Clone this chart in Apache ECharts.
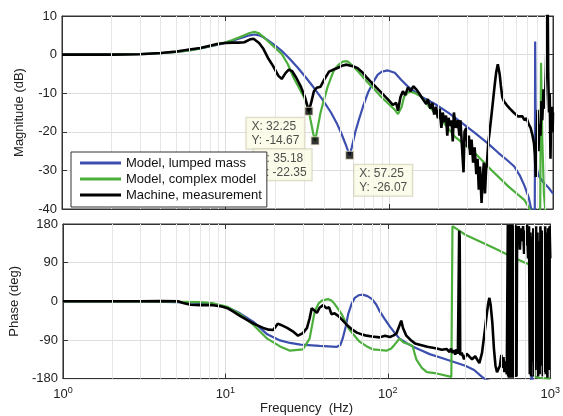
<!DOCTYPE html>
<html>
<head>
<meta charset="utf-8">
<script src="https://cdn.jsdelivr.net/npm/echarts@6/dist/echarts.min.js"></script>
<style>
html,body{margin:0;padding:0;background:#fff}
#main{width:563px;height:416px}
</style>
</head>
<body>
<div id="main"></div>
<script>
// frequency response data: [Hz, value]
var lumpedMag = [[1,0],[2,0.05],[3,0.15],[4,0.35],[5,0.7],[6,1.1],[7,1.6],[8,2.1],[9,2.6],[10,3.1],[11,3.6],[12,4.1],[13,4.6],[14,5],[15,5.2],[16,5],[17,4.5],[18,3.8],[20,2.4],[22,1],[24.5,-1],[27.6,-3.4],[31,-6],[34.6,-8.6],[39,-11.6],[44,-15],[48,-18],[51,-20.5],[54,-23.2],[56,-25],[57.25,-26.07],[59,-24],[62,-20],[65,-17],[69,-13.5],[74,-9.9],[80,-7],[85,-5.2],[90,-4.4],[98,-4.1],[108,-4.7],[118,-6.5],[130,-8.3],[157,-10.9],[190,-12.8],[230,-15.1],[280,-17.8],[333,-20.3],[400,-23],[465,-25.5],[530,-27.5],[580,-29],[630,-31.5],[670,-34],[710,-37],[745,-41],[774,-40],[778,3.4],[784,-20],[800,-30],[820,-31.5],[870,-33],[940,-34.5],[1000,-36]];
var complexMag = [[1,0],[2,0.05],[3,0.15],[4,0.35],[5,0.7],[6,1.1],[7,1.6],[8,2.2],[9,2.7],[10,3.2],[11,3.8],[12,4.4],[13,5],[14,5.6],[15,5.9],[16,5.5],[17,4.6],[18,3.6],[20,1.8],[22,0.2],[24,-2.5],[26,-6],[28,-8.5],[30,-10.9],[32,-14],[33,-16.9],[34.3,-20.5],[35.18,-22.35],[36.3,-19.5],[38,-15],[40,-11.5],[42,-8.3],[44,-6],[46,-3.9],[49,-2.6],[52,-1.8],[55,-1.7],[57,-2.1],[60,-3],[64.5,-4.4],[69,-5.8],[74,-7.3],[81,-9],[89,-10.9],[98,-12.6],[108,-14.3],[113,-15.4],[116,-15.6],[119,-13.5],[123,-10.9],[130,-9.8],[136,-9.6],[145,-10.1],[157,-10.9],[175,-13.5],[200,-16],[250,-21.2],[333,-25.5],[420,-29.9],[535,-34.2],[670,-37.7],[720,-40],[740,-41],[835,-41],[845,-2.1],[860,-22],[880,-36],[900,-41],[1000,-41]];
var measuredMag = [[1,0],[2,0],[3,0.1],[4,0.4],[5,0.8],[6,1.3],[7,1.7],[8,2.3],[9,2.8],[10,3],[11,3.1],[12,3.1],[13,3.2],[14,3.9],[14.8,4.1],[16,3],[17,1.5],[18.1,-0.8],[19.5,-3],[21,-5.5],[22,-6.3],[23.2,-4.8],[24.3,-3.9],[25.5,-4.3],[27,-6],[28.8,-8.3],[30.5,-11],[32.25,-14.67],[33.5,-12],[34.6,-9.5],[36,-8.6],[38,-8.3],[40,-6.5],[42.8,-4.4],[45,-4],[48.6,-3.4],[52,-2.8],[55,-2.6],[58,-2.9],[60,-3],[64,-3.5],[68,-4.5],[73,-6],[78,-7.3],[84,-8.7],[90,-10],[95,-11],[100,-12],[105,-13],[110,-12.5],[113,-14.5],[117,-11],[121,-9.5],[125,-10.5],[130,-8.5],[135,-9.5],[140,-8.2],[146,-9],[152,-10],[160,-11.5],[168,-12.8],[172,-11.5],[178,-14],[183,-12.5],[188,-15.5],[193,-13.5],[198,-16.5],[203,-14],[208,-19],[212,-15],[217,-17.5],[222,-15.8],[226,-21],[230,-16.4],[236,-18.5],[240,-17],[244,-22.5],[248,-15],[255,-19],[262,-17],[268,-21],[272,-17],[278,-24],[284,-30.5],[288,-20],[295,-19],[300,-24],[306,-21],[312,-26],[318,-22],[325,-28],[332,-24],[340,-31],[346,-27],[352,-35],[358,-29],[366,-38.4],[372,-32],[378,-28],[384,-36],[390,-30],[395,-28],[402,-23],[410,-20],[420,-16],[430,-12],[440,-8],[450,-4.5],[460,-2.5],[466,-2.1],[472,-5],[480,-8],[490,-11],[500,-12],[510,-11.5],[520,-13],[530,-12.5],[545,-14],[560,-13.5],[575,-15],[590,-14.5],[610,-16],[625,-15.5],[650,-16],[670,-17],[690,-16.5],[710,-18],[730,-19],[750,-21],[765,-23],[775,-26],[785,-31.7],[795,-20],[805,-14.3],[815,-25],[825,-18],[838,-21],[850,-12],[860,-17],[875,-9],[890,-14],[905,-4],[918,8],[928,14],[935,-5],[945,-15],[955,-10],[965,-27],[975,-15],[985,-13.5],[995,-20],[1000,-15]];

var lumpedPhase = [[1,0],[3,-0.5],[5,-2],[7,-4],[9,-9],[10.3,-14],[12.3,-28],[14.9,-48],[18.1,-77],[21.7,-91],[25,-97],[29,-101],[38,-104],[48.6,-106],[51,-102],[52.7,-87],[55,-60],[57,-30],[60,-5],[62.6,8],[66,14],[70,15.5],[75,12],[80,5],[85,-8],[89,-23],[96,-42],[103,-59],[110,-73],[118,-87],[130,-97],[142,-105],[160,-114],[181,-123],[215,-132],[250,-140],[300,-150],[340,-160],[380,-176],[400,-182],[500,-195],[740,-210],[770,-172],[790,-200],[1000,-210]];
var complexPhase = [[1,0],[3,-0.3],[5,-1],[7,-2],[8.5,-5],[10.3,-13],[12.3,-30],[14.9,-55],[18.1,-87],[21.7,-105],[25,-115],[30,-112],[33,-87],[35.5,-23],[37.5,-5],[39.3,1.5],[42.8,5],[45,2],[47,-6],[52,-30],[58,-66],[67,-94],[75,-106],[81,-112],[98,-115],[105,-110],[110,-101],[118,-87],[125,-96],[135,-100],[142,-104],[150,-136],[162,-155],[174,-165],[200,-168],[246,-176],[249,-178],[250,175],[300,155],[366,140],[450,124],[580,104],[700,90],[745,86],[790,80],[800,-175],[850,-178],[1000,-180]];
var measuredPhase = [[1,0],[3,0],[4,0.5],[5.1,0],[5.5,-4],[6.1,-8],[7,-9],[8.4,-9],[9.5,-12],[10.3,-16],[11.2,-24],[12.3,-34],[14.9,-52],[17.1,-62],[18.5,-66],[19.7,-67],[21,-52],[22,-55],[24,-62],[26,-70],[28,-80],[30,-74],[31.8,-62],[33,-40],[34,-16],[35.5,-22],[36.6,-27],[38,-15],[40,-9],[42,-16],[43.5,-14],[45,-30],[47,-28],[49.5,-34],[52,-42],[56,-55],[60,-65],[64.5,-73],[69,-77],[74,-80],[80,-82],[89,-84],[96,-80],[103,-83],[108,-80],[113,-75],[117,-60],[121,-45],[124,-62],[130,-80],[138,-90],[147,-98],[157,-101],[175,-106],[200,-110],[215,-113],[230,-111],[240,-118],[245,-110],[250,-120],[255,-114],[260,-124],[265,-112],[270,-122],[273,-118],[275,164],[277,150],[279,-125],[285,-120],[295,-135],[305,-122],[317,-128],[330,-135],[345,-128],[366,-144],[380,-120],[395,-70],[405,-35],[415,-5],[422,8],[430,-10],[440,-50],[450,-110],[460,-150],[470,-165],[480,-168],[490,-150],[500,-125],[508,-155],[515,-130],[522,-165],[530,-140],[540,-170],[548,178],[551,-175],[554,176],[557,-178],[560,170],[563,-172],[566,178],[569,-176],[572,175],[575,-178],[578,172],[581,-170],[584,178],[588,-175],[592,175],[596,-178],[600,170],[604,-172],[608,178],[612,-176],[616,176],[620,-175],[625,172],[630,150],[640,175],[650,120],[660,170],[670,140],[680,175],[690,110],[700,165],[710,130],[720,178],[730,100],[740,175],[748,-170],[755,160],[762,-175],[770,150],[778,-140],[786,170],[794,-175],[802,120],[810,-160],[818,175],[826,-120],[834,160],[842,-175],[850,140],[860,-170],[870,175],[880,-150],[890,165],[900,-175],[910,150],[920,-165],[930,175],[940,-170],[950,160],[960,-178],[970,170],[980,-160],[990,175],[1000,100]];

// data tips
var tipFreq = [32.25, 35.18, 57.25];
var tipMag = [-14.67, -22.35, -26.07];

var minorFreqs = [2,3,4,5,6,7,8,9,20,30,40,50,60,70,80,90,200,300,400,500,600,700,800,900];
var seriesNames = ['Model, lumped mass', 'Model, complex model', 'Machine, measurement'];
var seriesColors = ['#3c4fae', '#4caf3c', '#000000'];

var font = 'Liberation Sans, Arial, Helvetica, sans-serif';
var chart = echarts.init(document.getElementById('main'));

function xAxisCfg(idx, showLabels, pos) {
	return {
		type: 'log', logBase: 10, min: 1, max: 1000, gridIndex: idx, position: pos,
		name: showLabels ? 'Frequency  (Hz)' : '',
		nameLocation: 'middle', nameGap: 14,
		nameTextStyle: {fontFamily: font, fontSize: 13, color: '#222'},
		axisLine: {show: true, onZero: false, lineStyle: {color: '#333'}},
		axisTick: {show: true, inside: true, length: 5, lineStyle: {color: '#333'}},
		axisLabel: {
			show: showLabels, margin: 7,
			formatter: function (v) { return '10{sup|' + Math.round(Math.log10(v)) + '}'; },
			fontFamily: font, fontSize: 13, color: '#222',
			rich: {sup: {fontSize: 9, fontFamily: font, color: '#222', padding: [0, 0, 9, 0]}}
		},
		splitLine: {show: pos === 'bottom', lineStyle: {color: '#dedede'}}
	};
}
function yAxisCfg(idx, name, min, max, interval, pos) {
	return {
		type: 'value', gridIndex: idx, min: min, max: max, interval: interval, position: pos,
		name: pos === 'left' ? name : '', nameLocation: 'middle', nameGap: 36,
		nameTextStyle: {fontFamily: font, fontSize: 13, color: '#222'},
		axisLine: {show: true, onZero: false, lineStyle: {color: '#333'}},
		axisTick: {show: true, inside: true, length: 5, lineStyle: {color: '#333'}},
		axisLabel: {show: pos === 'left', fontFamily: font, fontSize: 13, color: '#222', margin: 5},
		splitLine: {show: pos === 'left', lineStyle: {color: '#dedede'}}
	};
}
function curve(name, data, color, idx, width) {
	return {
		name: name, type: 'line', data: data, xAxisIndex: idx, yAxisIndex: idx,
		showSymbol: false, symbol: 'none', color: color,
		lineStyle: {color: color, width: width}, clip: true, z: 3
	};
}
function minorGrid(idx) {
	return {
		type: 'line', xAxisIndex: idx, yAxisIndex: idx, data: [[1, -1000]],
		showSymbol: false, lineStyle: {width: 0}, silent: true, z: 1,
		markLine: {
			silent: true, symbol: 'none', label: {show: false}, animation: false,
			lineStyle: {color: '#e6e6e6', type: 'solid', width: 1},
			data: minorFreqs.map(function (f) { return {xAxis: f}; })
		}
	};
}

var tipData = tipFreq.map(function (f, i) { return [f, tipMag[i]]; });
var tipOffsets = [[-58, 11], [-57, 13], [9, 14]];

var option = {
	animation: false,
	backgroundColor: '#fff',
	grid: [
		{left: 62, top: 16, width: 491, height: 193, show: true, borderColor: '#333', borderWidth: 1},
		{left: 62, top: 224, width: 491, height: 169, show: true, borderColor: '#333', borderWidth: 1}
	],
	xAxis: [
		xAxisCfg(0, false, 'bottom'), xAxisCfg(1, true, 'bottom'),
		xAxisCfg(0, false, 'top'), xAxisCfg(1, false, 'top')
	],
	yAxis: [
		yAxisCfg(0, 'Magnitude (dB)', -40, 10, 10, 'left'),
		yAxisCfg(1, 'Phase (deg)', -180, 180, 90, 'left'),
		yAxisCfg(0, '', -40, 10, 10, 'right'),
		yAxisCfg(1, '', -180, 180, 90, 'right')
	],
	legend: {
		data: seriesNames, orient: 'vertical', left: 71, top: 152, z: 10,
		backgroundColor: '#fff', borderColor: '#333', borderWidth: 1,
		icon: 'rect', itemWidth: 41, itemHeight: 3,
		padding: [3, 5, 4, 9], itemGap: 0,
		textStyle: {fontFamily: font, fontSize: 13, lineHeight: 16, color: '#111'}
	},
	series: [
		minorGrid(0), minorGrid(1),
		curve(seriesNames[0], lumpedMag, seriesColors[0], 0, 2.2),
		curve(seriesNames[1], complexMag, seriesColors[1], 0, 2.2),
		curve(seriesNames[2], measuredMag, seriesColors[2], 0, 2.6),
		curve(seriesNames[0], lumpedPhase, seriesColors[0], 1, 2.2),
		curve(seriesNames[1], complexPhase, seriesColors[1], 1, 2.2),
		curve(seriesNames[2], measuredPhase, seriesColors[2], 1, 2.6),
		{
			type: 'scatter', xAxisIndex: 0, yAxisIndex: 0, z: 5,
			symbol: 'rect', symbolSize: 8,
			itemStyle: {color: '#000', borderColor: '#e8e4c8', borderWidth: 1},
			data: tipData.map(function (d, i) {
				return {
					value: d,
					label: {
						show: true, position: tipOffsets[i], align: 'left', verticalAlign: 'top',
						formatter: 'X: ' + d[0] + '\nY: ' + d[1],
						fontFamily: font, fontSize: 12, lineHeight: 14, color: '#222',
						backgroundColor: '#fbfbe6', borderColor: '#cfcdb4', borderWidth: 1,
						padding: [2, 5, 1, 5]
					}
				};
			})
		}
	]
};
chart.setOption(option);
</script>
</body>
</html>
